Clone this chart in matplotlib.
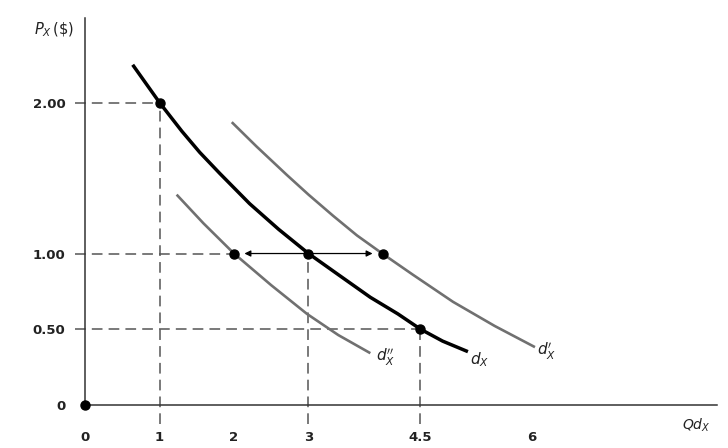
import numpy as np
import matplotlib.pyplot as plt

# demand curve d_X
d_q = [0.64, 1.0, 1.3, 1.54, 1.81, 2.21, 2.6, 3.0, 3.4, 3.83, 4.2, 4.5, 4.8, 5.14]
d_p = [2.25, 2.0, 1.81, 1.67, 1.53, 1.33, 1.16, 1.0, 0.86, 0.71, 0.60, 0.50, 0.42, 0.35]

# shifted right, d_X'
d1_q = [1.97, 2.3, 2.71, 3.0, 3.33, 3.65, 3.99, 4.4, 4.94, 5.5, 6.04]
d1_p = [1.87, 1.71, 1.52, 1.39, 1.25, 1.12, 1.0, 0.86, 0.68, 0.52, 0.38]

# shifted left, d_X''
d2_q = [1.23, 1.59, 2.0, 2.5, 2.98, 3.4, 3.83]
d2_p = [1.39, 1.20, 1.0, 0.79, 0.60, 0.46, 0.34]

# marked points
pts_q = [1, 3, 4.5, 2, 4]
pts_p = [2.0, 1.0, 0.5, 1.0, 1.0]

xticks = [0, 1, 2, 3, 4.5, 6]
xlabels = ['0', '1', '2', '3', '4.5', '6']
yticks = [0, 0.5, 1, 2]
ylabels = ['0', '0.50', '1.00', '2.00']

fig = plt.figure(figsize=(7.28, 4.48), dpi=100)
ax = fig.add_axes([0, 0, 1, 1])
ax.set_xlim(-1.141, 8.631)
ax.set_ylim(-0.288, 2.679)

for s in ['top', 'right']:
    ax.spines[s].set_visible(False)
ax.spines['left'].set_position(('data', 0))
ax.spines['bottom'].set_position(('data', 0))
ax.spines['left'].set_bounds(0, 2.56)
ax.spines['bottom'].set_bounds(0, 8.48)
for s in ['left', 'bottom']:
    ax.spines[s].set_linewidth(1.1)
    ax.spines[s].set_color('#333333')

ax.set_xticks(xticks)
ax.set_xticklabels(xlabels)
ax.set_yticks(yticks)
ax.set_yticklabels(ylabels)
ax.tick_params(axis='x', length=0, pad=19, labelsize=9.5)
ax.tick_params(axis='y', length=0, pad=14, labelsize=9.5)
for lab in ax.get_xticklabels() + ax.get_yticklabels():
    lab.set_fontweight('bold')
    lab.set_color('#222222')
# small tick marks at 2 and 6
ax.set_xticks([2, 6], minor=True)
ax.tick_params(axis='x', which='minor', length=8, width=1.0, color='#333333', direction='out')

# dashed guide lines
dash = dict(color='#555555', lw=1.1, dashes=(7, 4))
for q, p in [(1, 2.0), (2, 1.0), (4.5, 0.5)]:
    ax.plot([-0.13, q], [p, p], **dash)
for q, p in [(1, 2.0), (3, 1.0), (4.5, 0.5)]:
    ax.plot([q, q], [-0.13, p], **dash)

ax.plot(d1_q, d1_p, color='#707070', lw=1.9, solid_capstyle='butt', solid_joinstyle='round')
ax.plot(d2_q, d2_p, color='#707070', lw=1.9, solid_capstyle='butt', solid_joinstyle='round')
ax.plot(d_q, d_p, color='black', lw=2.5, solid_capstyle='butt', solid_joinstyle='round')

# arrows from (3,1) to the shifted curves
for target in [2.14, 3.86]:
    ax.annotate('', xy=(target, 1.0), xytext=(3, 1.0),
                arrowprops=dict(arrowstyle='-|>', color='black', lw=0.9,
                                mutation_scale=9, shrinkA=0, shrinkB=0))

ax.plot(pts_q, pts_p, 'o', color='black', ms=6.5, zorder=5)
ax.plot([0], [0], 'o', color='black', ms=6.5, zorder=5, clip_on=False)

ax.text(4.03, 0.315, r"$d_X^{\prime\prime}$", fontsize=11, ha='center', va='center', color='#222222')
ax.text(5.30, 0.30, r"$d_X$", fontsize=11, ha='center', va='center', color='#222222')
ax.text(6.20, 0.35, r"$d_X^{\prime}$", fontsize=11, ha='center', va='center', color='#222222')
ax.text(-0.42, 2.48, r"$P_X\,(\$)$", fontsize=10.5, ha='center', va='center', color='#222222')
ax.text(8.21, -0.136, r"$Qd_X$", fontsize=10, ha='center', va='center', color='#222222')

fig.savefig('out.png', dpi=100)
